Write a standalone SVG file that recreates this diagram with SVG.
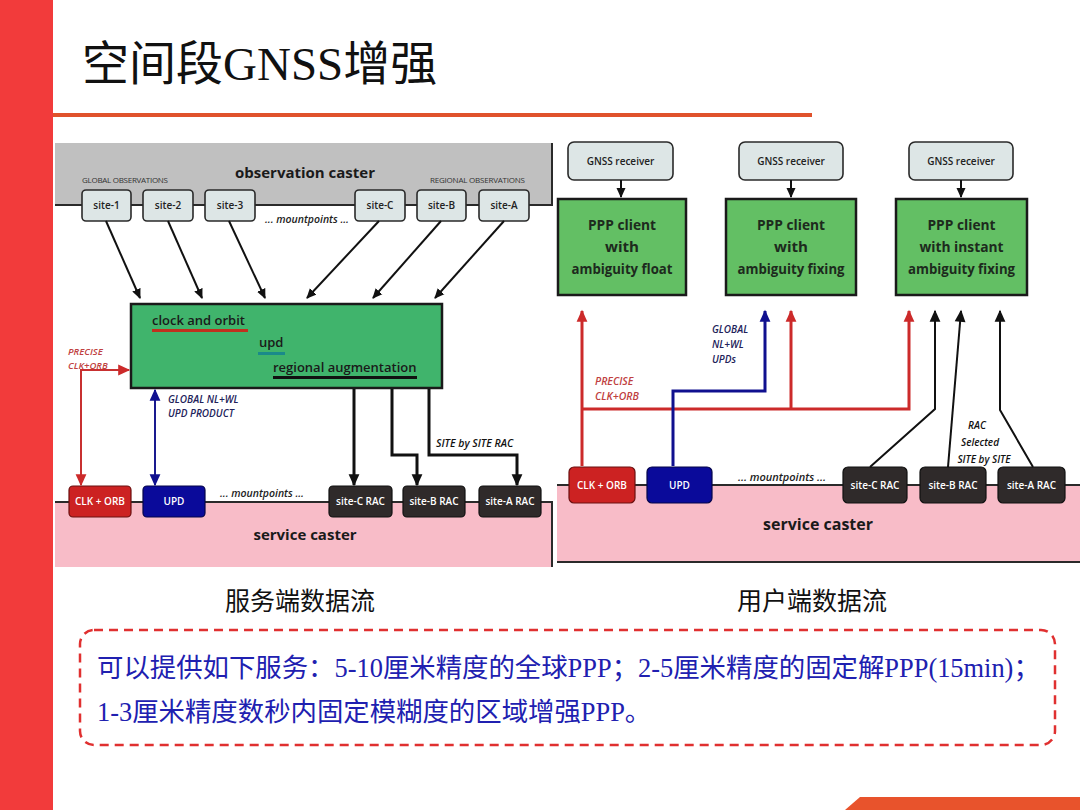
<svg xmlns="http://www.w3.org/2000/svg" width="1080" height="810" viewBox="0 0 1080 810">
<defs>
<style>
.s{font-family:"Open Sans","Noto Sans",sans-serif}
.it{font-family:"Open Sans","Noto Sans",sans-serif;font-style:italic;font-weight:600}
.site{fill:#dde6e6;stroke:#2a2a2a;stroke-width:1.6}
.rac{fill:#2f2a2a;stroke:#111;stroke-width:1.2}
.lbl{font-size:10px;fill:#222;text-anchor:middle;font-weight:600}
.wl{font-size:10px;fill:#fff;text-anchor:middle;font-weight:600}
.pc{fill:#63bf64;stroke:#1a1a1a;stroke-width:2.5}
.pt{font-size:15px;font-weight:700;fill:#1d2a1d;text-anchor:middle}
.blk{fill:none;stroke:#111;stroke-width:2}
.blk3{fill:none;stroke:#111;stroke-width:3}
.red{fill:none;stroke:#cc2a2a;stroke-width:3}
.red2{fill:none;stroke:#c83030;stroke-width:2}
.blu{fill:none;stroke:#10108f;stroke-width:3}
.blu2{fill:none;stroke:#1a1a8f;stroke-width:2}
.cjk{font-family:"Liberation Serif","Noto Sans CJK SC",serif}
</style>
<marker id="ak" viewBox="0 0 10 10" refX="9" refY="5" markerWidth="10" markerHeight="10" markerUnits="userSpaceOnUse" orient="auto-start-reverse"><path d="M0,0.5 L10,5 L0,9.5 z" fill="#111"/></marker>
<marker id="ak2" viewBox="0 0 10 10" refX="9" refY="5" markerWidth="13" markerHeight="12" markerUnits="userSpaceOnUse" orient="auto-start-reverse"><path d="M0,0.5 L10,5 L0,9.5 z" fill="#111"/></marker>
<marker id="ar" viewBox="0 0 10 10" refX="9" refY="5" markerWidth="14" markerHeight="12" markerUnits="userSpaceOnUse" orient="auto-start-reverse"><path d="M0,0.5 L10,5 L0,9.5 z" fill="#cc2a2a"/></marker>
<marker id="ab" viewBox="0 0 10 10" refX="9" refY="5" markerWidth="14" markerHeight="12" markerUnits="userSpaceOnUse" orient="auto-start-reverse"><path d="M0,0.5 L10,5 L0,9.5 z" fill="#10108f"/></marker>
</defs>

<rect width="1080" height="810" fill="#fff"/>
<rect x="0" y="0" width="53" height="810" fill="#f23b3b"/>
<rect x="53" y="113" width="759" height="4" fill="#e0522c"/>
<polygon points="845,810 860,797 1080,797 1080,810" fill="#e8532c"/>

<text class="cjk" x="82" y="80" font-size="47" fill="#111">空间段GNSS增强</text>

<!-- LEFT DIAGRAM -->
<g id="observation-caster">
<rect x="55" y="143" width="497" height="62" fill="#c0c0c0"/>
<path d="M552,143 V205 H55" fill="none" stroke="#2a2a2a" stroke-width="2"/>
<text class="s" x="305" y="178" font-size="15" font-weight="700" fill="#1a1a1a" text-anchor="middle">observation caster</text>
<text class="s" x="82" y="183" font-size="8" fill="#333" textLength="86">GLOBAL OBSERVATIONS</text>
<text class="s" x="430" y="183" font-size="8" fill="#333" textLength="95">REGIONAL OBSERVATIONS</text>
</g>
<g id="site-1"><rect class="site" x="82" y="190" width="49" height="31" rx="4"/><text class="s lbl" x="106.5" y="209">site-1</text></g>
<g id="site-2"><rect class="site" x="143" y="190" width="50" height="31" rx="4"/><text class="s lbl" x="168" y="209">site-2</text></g>
<g id="site-3"><rect class="site" x="205" y="190" width="50" height="31" rx="4"/><text class="s lbl" x="230" y="209">site-3</text></g>
<g id="site-C"><rect class="site" x="355" y="190" width="50" height="31" rx="4"/><text class="s lbl" x="380" y="209">site-C</text></g>
<g id="site-B"><rect class="site" x="417" y="190" width="49" height="31" rx="4"/><text class="s lbl" x="441.5" y="209">site-B</text></g>
<g id="site-A"><rect class="site" x="479" y="190" width="50" height="31" rx="4"/><text class="s lbl" x="504" y="209">site-A</text></g>
<text class="it" x="265" y="223" font-size="10.5" fill="#222">... mountpoints ...</text>

<g id="processing">
<rect x="131" y="304" width="311" height="84" fill="#40b46c" stroke="#1a1a1a" stroke-width="2.5"/>
<text class="s" x="152" y="325" font-size="13" font-weight="600" fill="#1a1a1a">clock and orbit</text>
<rect x="152" y="329" width="96" height="3" fill="#c0301e"/>
<text class="s" x="259" y="347" font-size="13" font-weight="600" fill="#1a1a1a">upd</text>
<rect x="258" y="352" width="27" height="3" fill="#1a8a8a"/>
<text class="s" x="273" y="372" font-size="13" font-weight="600" fill="#1a1a1a">regional augmentation</text>
<rect x="273" y="376" width="144" height="3" fill="#111"/>
</g>

<g id="service-caster-left">
<rect x="55" y="502" width="497" height="65" fill="#f8bcc8"/>
<path d="M55,502 H552 V567" fill="none" stroke="#2a2a2a" stroke-width="2"/>
<text class="s" x="305" y="540" font-size="15" font-weight="700" fill="#1a1a1a" text-anchor="middle">service caster</text>
</g>
<g id="clk-orb-left"><rect x="69" y="486" width="62" height="31" rx="4" fill="#cc2222" stroke="#6a1010" stroke-width="1.2"/><text class="s wl" x="100" y="505">CLK + ORB</text></g>
<g id="upd-left"><rect x="143" y="486" width="62" height="31" rx="4" fill="#0a0a9a" stroke="#05054a" stroke-width="1.2"/><text class="s wl" x="174" y="505">UPD</text></g>
<text class="it" x="220" y="497" font-size="10.5" fill="#222">... mountpoints ...</text>
<g id="rac-C-left"><rect class="rac" x="329" y="486" width="63" height="31" rx="4"/><text class="s wl" x="360.5" y="505" font-size="9">site-C  RAC</text></g>
<g id="rac-B-left"><rect class="rac" x="403" y="486" width="62" height="31" rx="4"/><text class="s wl" x="434" y="505" font-size="9">site-B  RAC</text></g>
<g id="rac-A-left"><rect class="rac" x="479" y="486" width="62" height="31" rx="4"/><text class="s wl" x="510" y="505" font-size="9">site-A  RAC</text></g>

<text class="it" x="68" y="355" font-size="9.5" fill="#c04040">PRECISE</text>
<text class="it" x="68" y="369" font-size="9.5" fill="#c04040">CLK+ORB</text>
<text class="it" x="168" y="403" font-size="10" fill="#22225a">GLOBAL NL+WL</text>
<text class="it" x="168" y="417" font-size="10" fill="#22225a">UPD PRODUCT</text>
<text class="it" x="436" y="447" font-size="10.5" fill="#111">SITE by SITE RAC</text>

<g id="connectors-left">
<path class="blk" d="M106,221 L140,298" marker-end="url(#ak)"/>
<path class="blk" d="M168,221 L202,298" marker-end="url(#ak)"/>
<path class="blk" d="M229,221 L265,298" marker-end="url(#ak)"/>
<path class="blk" d="M379,221 L307,298" marker-end="url(#ak)"/>
<path class="blk" d="M441,221 L373,298" marker-end="url(#ak)"/>
<path class="blk" d="M504,221 L435,298" marker-end="url(#ak)"/>
<path class="red2" d="M81,485 V370 H129" marker-start="url(#ar)" marker-end="url(#ar)"/>
<path class="blu2" d="M155,485 V390" marker-start="url(#ab)" marker-end="url(#ab)"/>
<path class="blk3" d="M354,389 V485" marker-end="url(#ak2)"/>
<path class="blk3" d="M392,389 V455 H417 V485" marker-end="url(#ak2)"/>
<path class="blk3" d="M429,389 V455 H517 V485" marker-end="url(#ak2)"/>
</g>

<!-- RIGHT DIAGRAM -->
<g id="gnss-1"><rect class="site" x="568" y="142" width="105" height="38" rx="6"/><text class="s lbl" x="620.5" y="165">GNSS receiver</text></g>
<g id="gnss-2"><rect class="site" x="739" y="142" width="104" height="38" rx="6"/><text class="s lbl" x="791" y="165">GNSS receiver</text></g>
<g id="gnss-3"><rect class="site" x="909" y="142" width="104" height="38" rx="6"/><text class="s lbl" x="961" y="165">GNSS receiver</text></g>
<g id="ppp-float"><rect class="pc" x="558" y="199" width="128" height="96"/>
<text class="s pt" x="622" y="230" textLength="68" lengthAdjust="spacingAndGlyphs">PPP client</text><text class="s pt" x="622" y="252" textLength="34" lengthAdjust="spacingAndGlyphs">with</text><text class="s pt" x="622" y="274" textLength="101" lengthAdjust="spacingAndGlyphs">ambiguity float</text></g>
<g id="ppp-fixing"><rect class="pc" x="726" y="199" width="130" height="96"/>
<text class="s pt" x="791" y="230" textLength="68" lengthAdjust="spacingAndGlyphs">PPP client</text><text class="s pt" x="791" y="252" textLength="34" lengthAdjust="spacingAndGlyphs">with</text><text class="s pt" x="791" y="274" textLength="107" lengthAdjust="spacingAndGlyphs">ambiguity fixing</text></g>
<g id="ppp-instant"><rect class="pc" x="896" y="199" width="131" height="96"/>
<text class="s pt" x="961.5" y="230" textLength="68" lengthAdjust="spacingAndGlyphs">PPP client</text><text class="s pt" x="961.5" y="252" textLength="84" lengthAdjust="spacingAndGlyphs">with instant</text><text class="s pt" x="961.5" y="274" textLength="107" lengthAdjust="spacingAndGlyphs">ambiguity fixing</text></g>

<g id="service-caster-right">
<rect x="557" y="485" width="523" height="77" fill="#f8bcc8"/>
<path d="M557,485 H1080 M557,562 H1080" fill="none" stroke="#2a2a2a" stroke-width="2"/>
<text class="s" x="818" y="530" font-size="16" font-weight="700" fill="#1a1a1a" text-anchor="middle">service caster</text>
</g>
<g id="clk-orb-right"><rect x="569" y="467" width="66" height="36" rx="5" fill="#cc2222" stroke="#6a1010" stroke-width="1.2"/><text class="s wl" x="602" y="489">CLK + ORB</text></g>
<g id="upd-right"><rect x="647" y="467" width="65" height="36" rx="5" fill="#0a0a9a" stroke="#05054a" stroke-width="1.2"/><text class="s wl" x="679.5" y="489">UPD</text></g>
<text class="it" x="738" y="481" font-size="11" fill="#222">... mountpoints ...</text>
<g id="rac-C-right"><rect class="rac" x="843" y="467" width="64" height="36" rx="5"/><text class="s wl" x="875" y="489">site-C  RAC</text></g>
<g id="rac-B-right"><rect class="rac" x="920" y="467" width="66" height="36" rx="5"/><text class="s wl" x="953" y="489">site-B  RAC</text></g>
<g id="rac-A-right"><rect class="rac" x="998" y="467" width="67" height="36" rx="5"/><text class="s wl" x="1031.5" y="489">site-A  RAC</text></g>

<text class="it" x="712" y="333" font-size="10" fill="#22225a">GLOBAL</text>
<text class="it" x="712" y="348" font-size="10" fill="#22225a">NL+WL</text>
<text class="it" x="712" y="363" font-size="10" fill="#22225a">UPDs</text>
<text class="it" x="595" y="385" font-size="10.5" fill="#c04040">PRECISE</text>
<text class="it" x="595" y="400" font-size="10.5" fill="#c04040">CLK+ORB</text>
<text class="it" x="977" y="429" font-size="10" fill="#111" text-anchor="middle">RAC</text>
<text class="it" x="980" y="446" font-size="10" fill="#111" text-anchor="middle">Selected</text>
<text class="it" x="984" y="463" font-size="10" fill="#111" text-anchor="middle">SITE by SITE</text>

<g id="connectors-right">
<path class="blk" d="M621,180 V197" marker-end="url(#ak)"/>
<path class="blk" d="M791,180 V197" marker-end="url(#ak)"/>
<path class="blk" d="M961,180 V197" marker-end="url(#ak)"/>
<path class="red" d="M582,466 V311" marker-end="url(#ar)"/>
<path class="red" d="M582,409 H909 V311" marker-end="url(#ar)"/>
<path class="red" d="M791,409 V311" marker-end="url(#ar)"/>
<path class="blu" d="M673,466 V391 H765 V311" marker-end="url(#ab)"/>
<path class="blk" d="M870,467 L935,409 V311" marker-end="url(#ak2)"/>
<path class="blk" d="M948,467 L961,311" marker-end="url(#ak2)"/>
<path class="blk" d="M1033,467 L1000,410 V311" marker-end="url(#ak2)"/>
</g>

<text class="cjk" x="300" y="610" font-size="25" fill="#111" text-anchor="middle">服务端数据流</text>
<text class="cjk" x="812" y="610" font-size="25" fill="#111" text-anchor="middle">用户端数据流</text>

<g id="note">
<rect x="80" y="630" width="975" height="115" rx="14" fill="none" stroke="#e03030" stroke-width="2.5" stroke-dasharray="9,6"/>
<text class="cjk" x="97" y="677" font-size="26.4" fill="#2020b0">可以提供如下服务：5-10厘米精度的全球PPP；2-5厘米精度的固定解PPP(15min)；</text>
<text class="cjk" x="97" y="721" font-size="26.4" fill="#2020b0">1-3厘米精度数秒内固定模糊度的区域增强PPP。</text>
</g>
</svg>
